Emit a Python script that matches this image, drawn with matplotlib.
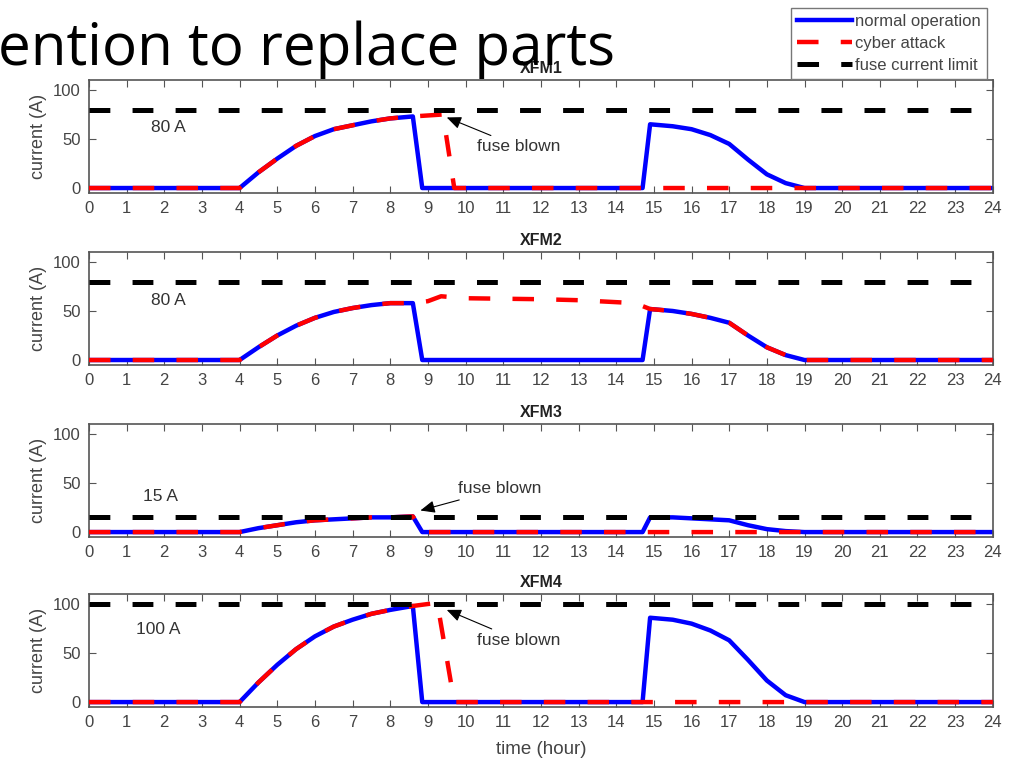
import matplotlib
matplotlib.use('Agg')
import matplotlib.pyplot as plt
from matplotlib.lines import Line2D

plt.rcParams['font.family'] = ['Liberation Sans', 'DejaVu Sans']
plt.rcParams['lines.scale_dashes'] = False

# transformer names and fuse ratings (A)
names = ['XFM1', 'XFM2', 'XFM3', 'XFM4']
fuse_limits = [80, 80, 15, 100]
fuse_labels = ['80 A', '80 A', '15 A', '100 A']

# normal operation: hour / current (A)
t_norm = [0, 4, 4.5, 5, 5.5, 6, 6.5, 7, 7.5, 8, 8.6, 8.85,
          14.7, 14.9, 15.5, 16, 16.5, 17, 17.5, 18, 18.5, 19, 24]
i_norm = {
    'XFM1': [0, 0, 16, 30, 43, 53, 60, 64, 68, 71, 73, 0,
             0, 65, 63, 60, 54, 45, 29, 14, 5, 0, 0],
    'XFM2': [0, 0, 13, 25, 35, 43, 49, 53, 56, 58, 58, 0,
             0, 52, 50, 47, 43, 38, 25, 13, 5, 0, 0],
    'XFM3': [0, 0, 4, 7, 10, 12, 13, 14, 15, 15, 16, 0,
             0, 15, 15, 14, 13, 12, 7, 3, 1, 0, 0],
    'XFM4': [0, 0, 20, 38, 54, 67, 77, 84, 90, 94, 98, 0,
             0, 86, 84, 80, 73, 63, 43, 22, 7, 0, 0],
}

# cyber attack: hour / current (A)
t_cyber = {
    'XFM1': [0, 4, 4.5, 5, 5.5, 6, 6.5, 7, 7.5, 8, 8.6, 9.0, 9.4, 9.7, 24],
    'XFM2': [0, 4, 4.5, 5, 5.5, 6, 6.5, 7, 7.5, 8, 8.6, 9.0, 9.35, 10, 12, 13, 14, 14.5,
             14.9, 15.5, 16, 16.5, 17, 17.5, 18, 18.5, 19, 24],
    'XFM3': [0, 4, 4.5, 5, 5.5, 6, 6.5, 7, 7.5, 8, 8.6, 8.85, 24],
    'XFM4': [0, 4, 4.5, 5, 5.5, 6, 6.5, 7, 7.5, 8, 8.6, 9.0, 9.25, 9.7, 24],
}
i_cyber = {
    'XFM1': [0, 0, 16, 30, 43, 53, 60, 64, 68, 71, 73, 74, 75, 0, 0],
    'XFM2': [0, 0, 13, 25, 35, 43, 49, 53, 56, 58, 58, 60, 65, 63, 62, 61, 59, 58,
             52, 50, 47, 43, 38, 25, 13, 5, 0, 0],
    'XFM3': [0, 0, 4, 7, 10, 12, 13, 14, 15, 15, 16, 0, 0],
    'XFM4': [0, 0, 20, 38, 54, 67, 77, 84, 90, 94, 98, 100, 101, 0, 0],
}

# "fuse blown" arrows: (tip hour, tip A, text hour, text A)
fuse_blown = {
    'XFM1': (9.5, 72, 10.3, 42),
    'XFM3': (8.8, 22, 9.8, 44),
    'XFM4': (9.5, 94, 10.3, 63),
}
limit_label_pos = [(2.1, 62), (2.1, 61), (1.9, 36), (1.85, 74)]

hours = list(range(0, 25))

fig = plt.figure(figsize=(10.19, 7.62), dpi=100)
bottoms = [0.7468, 0.5211, 0.2953, 0.0722]
frame_col = '#555555'
text_col = '#444444'

for k, name in enumerate(names):
    ax = fig.add_axes([0.0873, bottoms[k], 0.887, 0.148])
    ax.plot(t_norm, i_norm[name], color='#0000ff', lw=3.2, zorder=2,
            solid_joinstyle='round')
    ax.plot(t_cyber[name], i_cyber[name], color='#ff0000', lw=3.2, zorder=3,
            dashes=(15.5, 16), dash_capstyle='butt')
    ax.plot([0, 24], [fuse_limits[k]] * 2, color='black', lw=3.6, zorder=4,
            dashes=(15, 16), dash_capstyle='butt')

    ax.set_xlim(0, 24)
    ax.set_ylim(-5, 110)
    ax.set_xticks(hours)
    ax.set_yticks([0, 50, 100])
    ax.tick_params(direction='in', top=True, right=True, length=5,
                   color=frame_col, labelcolor=text_col, labelsize=12, pad=6)
    for sp in ax.spines.values():
        sp.set_color(frame_col)
        sp.set_linewidth(1.2)
    ax.set_title(name, fontsize=11.5, fontweight='bold', color='#222222', pad=5)
    ax.set_ylabel('current (A)', fontsize=13, color=text_col, labelpad=4)

    lx, ly = limit_label_pos[k]
    ax.text(lx, ly, fuse_labels[k], fontsize=12.5, color='#333333',
            ha='center', va='center')

    if name in fuse_blown:
        tx, ty, sx, sy = fuse_blown[name]
        ax.annotate('fuse blown', xy=(tx, ty), xytext=(sx, sy),
                    fontsize=12.5, color='#333333', ha='left', va='center',
                    arrowprops=dict(arrowstyle='-|>,head_length=0.7,head_width=0.3',
                                    color='black', lw=0.8, shrinkA=2, shrinkB=0),
                    zorder=6)

    if k == len(names) - 1:
        ax.set_xlabel('time (hour)', fontsize=13.5, color=text_col, labelpad=8)

handles = [
    Line2D([], [], color='#0000ff', lw=3.2),
    Line2D([], [], color='#ff0000', lw=3.2, dashes=(15.5, 16), dash_capstyle='butt'),
    Line2D([], [], color='black', lw=3.6, dashes=(15.5, 16), dash_capstyle='butt'),
]
leg = fig.legend(handles, ['normal operation', 'cyber attack', 'fuse current limit'],
                 loc='upper right', bbox_to_anchor=(987 / 1019, 1 - 8 / 762),
                 fontsize=12, handlelength=3.3, handletextpad=0.2,
                 labelspacing=0.42, borderpad=0.35, borderaxespad=0,
                 fancybox=False, framealpha=1, edgecolor='#777777')
for txt in leg.get_texts():
    txt.set_color(text_col)
leg.set_zorder(10)

# slide heading running across the top
fig.text(-0.002, 1 - 65 / 762, 'ention to replace parts', fontsize=42,
         family=['Open Sans', 'DejaVu Sans'], color='black',
         ha='left', va='baseline', zorder=20)

fig.savefig('out.png', dpi=100)
